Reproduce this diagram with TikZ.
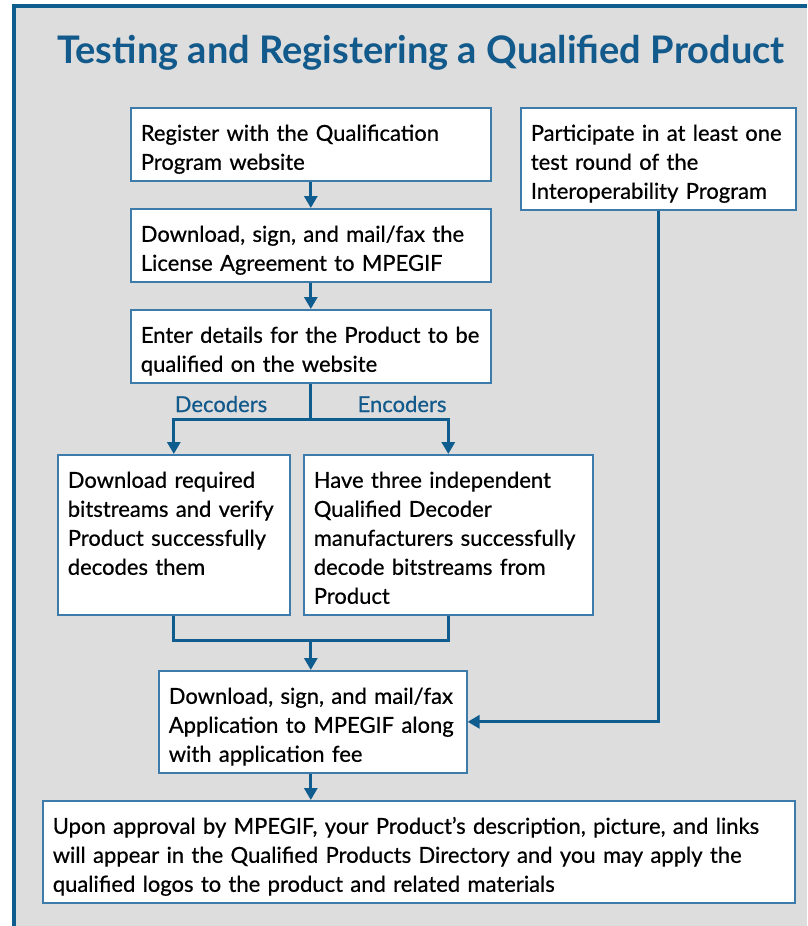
\documentclass[tikz,border=0pt]{standalone}
\usepackage{fontspec}
\setmainfont{Lato}
\newfontfamily\stepfont{Lato}[Ligatures=TeX, RawFeature={embolden=0.6}]
\usepackage{tikz}
\usetikzlibrary{arrows.meta,calc}
\definecolor{titleblue}{HTML}{135A8C}
\definecolor{lineblue}{HTML}{0F5C8E}
\definecolor{boxblue}{HTML}{3D7BAA}
\definecolor{panelgray}{HTML}{DDDDDD}

\begin{document}
\begin{tikzpicture}[x=1pt,y=-1pt,
	stepbox/.style={draw=boxblue, line width=1.6pt, fill=white, anchor=north west,
		align=left, text width=#1, inner xsep=10pt, inner ysep=0pt,
		font=\stepfont\fontsize{22}{29}\selectfont,
		execute at begin node={\rule{0pt}{33pt}},
		execute at end node={\rule[-11pt]{0pt}{11pt}}},
	link/.style={draw=lineblue, line width=3pt},
	arrow/.style={link, -{Triangle[length=12pt,width=13pt]}},
	branch/.style={text=titleblue, font=\stepfont\fontsize{22}{26}\selectfont}]
	% Define the panel
	\useasboundingbox (0,0) rectangle (807,926);
	\fill[panelgray] (12,4) rectangle (807,926);
	\draw[lineblue, line width=4pt] (14,926) -- (14,6) -- (807,6);
	\node[anchor=base, text=titleblue, font=\bfseries\fontsize{38}{44}\selectfont] (title) at (421,63) {Testing and Registering a Qualified Product};
	% Add the steps
	\node[stepbox=340pt] (reg) at (130,107) {Register with the Qualification\\Program website};
	\node[stepbox=340pt] (lic) at (130,208) {Download, sign, and mail/fax the\\License Agreement to MPEGIF};
	\node[stepbox=340pt] (ent) at (130,309) {Enter details for the Product to be\\qualified on the website};
	\node[stepbox=255pt] (par) at (520,107) {Participate in at least one\\test round of the\\Interoperability Program};
	\node[stepbox=212pt] (dec) at (57,454) {Download required\\bitstreams and verify\\Product successfully\\decodes them\\};
	\node[stepbox=269pt] (enc) at (303,454) {Have three independent\\Qualified Decoder\\manufacturers successfully\\decode bitstreams from\\Product};
	\node[stepbox=288pt] (app) at (158,670) {Download, sign, and mail/fax\\Application to MPEGIF along\\with application fee};
	\node[stepbox=732pt] (fin) at (42,800) {Upon approval by MPEGIF, your Product's description, picture, and links\\will appear in the Qualified Products Directory and you may apply the\\qualified logos to the product and related materials};
	% Branch labels
	\node[branch] (declabel) at (221,404) {Decoders};
	\node[branch] (enclabel) at (402,404) {Encoders};
	% Connect the steps
	\coordinate (split) at ($(ent.south)+(0,36)$);
	\coordinate (merge) at ($(ent.south)+(0,257)$);
	\draw[arrow] (reg) -- (lic);
	\draw[arrow] (lic) -- (ent);
	\draw[link] (ent.south) -- (split);
	\draw[arrow] (split) -| (dec.north);
	\draw[arrow] (split) -| (enc.north);
	\draw[link] (dec.south) |- (merge);
	\draw[link] (enc.south) |- (merge);
	\draw[arrow] (merge) -- (merge |- app.north);
	\draw[arrow] (merge |- app.south) -- (merge |- fin.north);
	\draw[arrow] (par.south) |- (app.east);
\end{tikzpicture}
\end{document}
